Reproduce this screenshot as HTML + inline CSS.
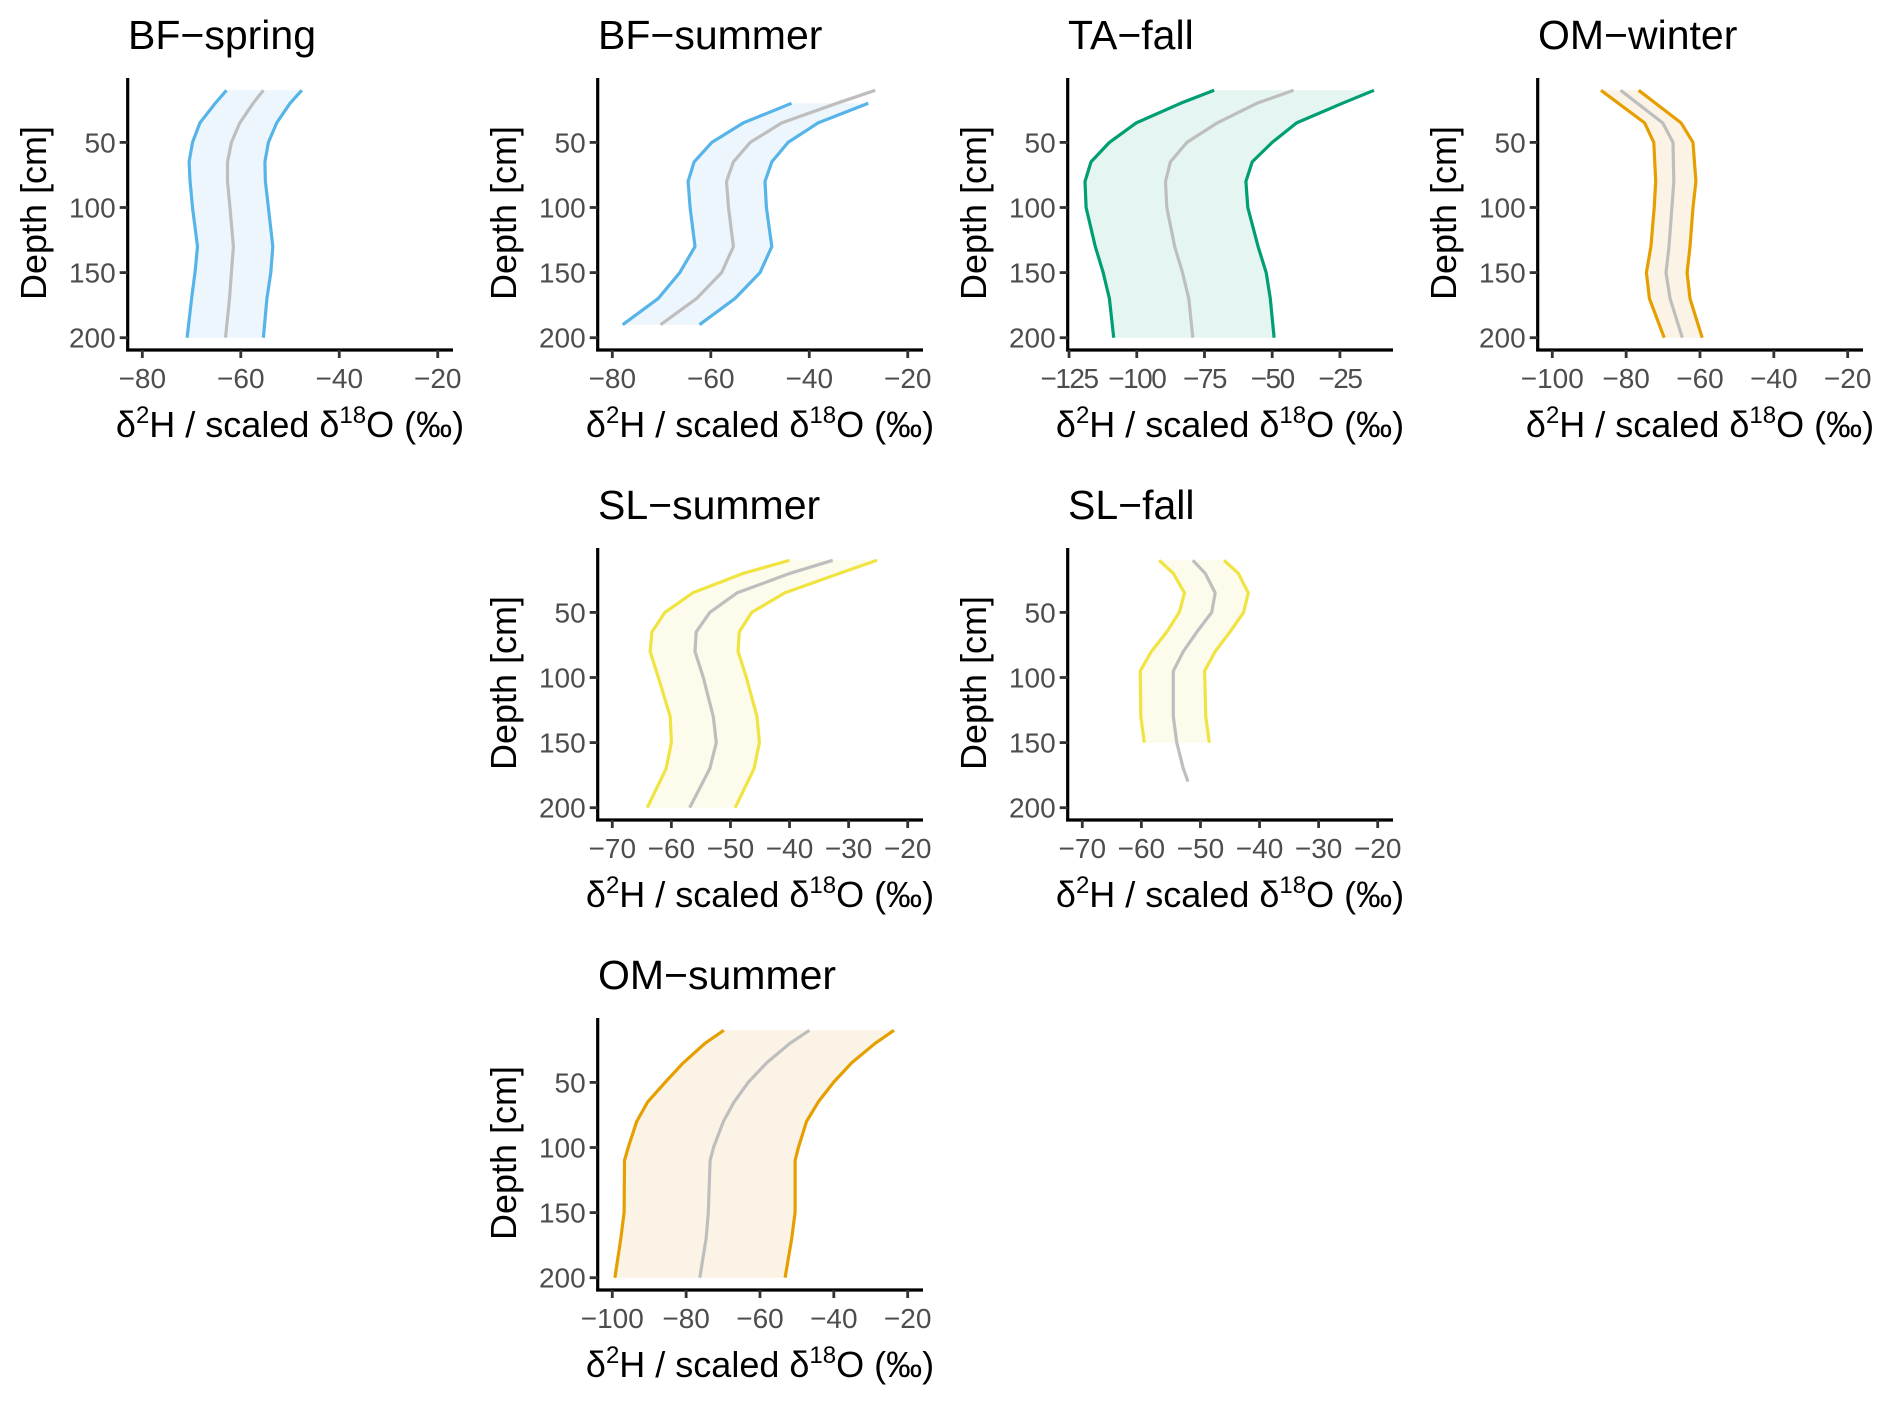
<!DOCTYPE html>
<html><head><meta charset="utf-8"><style>
html,body{margin:0;padding:0;background:#fff;}
svg{display:block;font-family:"Liberation Sans",Arial,sans-serif;}
</style></head><body>
<svg id="chart" width="1892" height="1405" viewBox="0 0 1892 1405" xmlns="http://www.w3.org/2000/svg"></svg>
<script>
// ---------- data ----------
const panelTitles = ["BF\u2212spring","BF\u2212summer","TA\u2212fall","OM\u2212winter","SL\u2212summer","SL\u2212fall","OM\u2212summer"];
const panelCols = [0,1,2,3,1,2,1];
const panelRows = [0,0,0,0,1,1,2];
const depthTicks = [50,100,150,200];

const bfSpringDepth = [10,20,35,50,65,80,100,130,150,170,200];
const bfSpringLow  = [-62.9,-65.2,-68.3,-69.8,-70.5,-70.3,-69.8,-68.8,-69.3,-70,-70.9];
const bfSpringMid  = [-55.4,-57.5,-60.2,-61.9,-62.7,-62.7,-62.2,-61.5,-61.9,-62.3,-63.1];
const bfSpringHigh = [-47.6,-50,-52.7,-54.4,-55.1,-55,-54.4,-53.5,-53.9,-54.7,-55.4];

const bfSummerDepth = [10,20,35,50,65,80,100,130,150,170,190];
const bfSummerLow  = [null,-43.6,-53.4,-59.8,-63.4,-64.6,-64.2,-63.2,-66.3,-70.7,-77.9];
const bfSummerMid  = [-26.6,-34.4,-45.6,-52,-55.4,-56.8,-56.4,-55.4,-57.8,-62.9,-70.2];
const bfSummerHigh = [null,-28,-38.2,-44.3,-47.6,-49,-48.7,-47.6,-50,-55.1,-62.3];

const taFallDepth = [10,20,35,50,65,80,100,130,150,170,200];
const taFallLow  = [-71.4,-83.8,-100.2,-110.1,-116.9,-119.1,-118.7,-115.3,-112.4,-110.1,-108.5];
const taFallMid  = [-42.1,-55.7,-70.3,-81.5,-87.6,-89.4,-88.9,-86,-83.1,-80.8,-79.3];
const taFallHigh = [-12.4,-24.1,-41,-50,-57.4,-59.7,-59,-55.2,-52.2,-50.7,-49.3];

const omWinterDepth = [10,35,50,80,100,130,150,170,200];
const omWinterLow  = [-86.8,-75,-72.5,-72,-72.4,-73.3,-74.5,-73.7,-69.7];
const omWinterMid  = [-81.5,-70.1,-67.3,-67.1,-67.6,-68.4,-69.2,-68.1,-64.8];
const omWinterHigh = [-76.6,-65.1,-61.9,-61.1,-61.9,-62.7,-63.5,-62.7,-59.4];

const slSummerDepth = [10,20,35,50,65,80,100,130,150,170,200];
const slSummerLow  = [-40,-47.8,-56.4,-61.1,-63.3,-63.6,-62.2,-60.2,-60,-60.9,-64.1];
const slSummerMid  = [-32.7,-39.9,-48.9,-53.5,-55.8,-56,-54.6,-52.9,-52.4,-53.5,-56.9];
const slSummerHigh = [-25.2,-31.5,-40.8,-46.4,-48.5,-48.7,-47.3,-45.5,-45.1,-46,-49.2];

const slFallDepth = [10,20,35,50,65,80,95,130,150,170,180];
const slFallLow  = [-57,-54.6,-52.7,-53.6,-55.7,-58.3,-60.2,-60.1,-59.5,null,null];
const slFallMid  = [-51.3,-49.2,-47.5,-48.1,-50.6,-52.9,-54.6,-54.6,-54,-52.9,-52.1];
const slFallHigh = [-46,-43.6,-41.9,-42.7,-45,-47.5,-49.3,-49.1,-48.5,null,null];

const omSummerDepth = [10,20,35,50,65,80,100,110,150,170,200];
const omSummerLow  = [-69.8,-74.9,-80.8,-85.7,-90.4,-93.4,-95.7,-96.7,-96.8,-97.7,-99.3];
const omSummerMid  = [-46.6,-51.9,-58.2,-63.2,-67,-69.9,-72.6,-73.5,-74,-74.6,-76.3];
const omSummerHigh = [-23.7,-28.8,-35.2,-40.1,-44.2,-47.4,-49.6,-50.5,-50.5,-51.4,-53.2];

const xTicks80 = [-80,-60,-40,-20];
const xTicks70 = [-70,-60,-50,-40,-30,-20];
const xTicks100 = [-100,-80,-60,-40,-20];
const xTicks125 = [-125,-100,-75,-50,-25];

const panelDepths = [bfSpringDepth,bfSummerDepth,taFallDepth,omWinterDepth,slSummerDepth,slFallDepth,omSummerDepth];
const panelLows = [bfSpringLow,bfSummerLow,taFallLow,omWinterLow,slSummerLow,slFallLow,omSummerLow];
const panelMids = [bfSpringMid,bfSummerMid,taFallMid,omWinterMid,slSummerMid,slFallMid,omSummerMid];
const panelHighs = [bfSpringHigh,bfSummerHigh,taFallHigh,omWinterHigh,slSummerHigh,slFallHigh,omSummerHigh];
const panelXTicks = [xTicks80,xTicks80,xTicks125,xTicks100,xTicks70,xTicks70,xTicks100];
const panelXMin = [-82.97,-82.97,-125.5,-103.95,-72.47,-72.47,-103.95];
const panelXMax = [-16.9,-16.9,-5.4,-15.85,-17.41,-17.41,-15.85];
const panelLine = ["#56B4E9","#56B4E9","#009E73","#E69F00","#F0E442","#F0E442","#E69F00"];
const panelFill = ["#EEF6FD","#EEF6FD","#E5F5F1","#FBF4E6","#FCFBEC","#FCFBEC","#FBF4E6"];

// ---------- drawing ----------
const NS = "http://www.w3.org/2000/svg";
const svg = document.getElementById("chart");
function mk(tag, attrs, parent){
  const e = document.createElementNS(NS, tag);
  for (const k in attrs) e.setAttribute(k, attrs[k]);
  (parent||svg).appendChild(e);
  return e;
}
const AX_L = 127.7, AX_R = 453, AX_T = 78, AX_B = 350;
const Y0 = 77.3, YS = 1.302;

panelTitles.forEach((title, i) => {
  const ox = panelCols[i]*470, oy = panelRows[i]*470;
  const g = mk("g", {transform:`translate(${ox},${oy})`});
  
  
  const xmin = panelXMin[i], xmax = panelXMax[i];
  const xs = v => AX_L + (v - xmin)/(xmax - xmin)*(AX_R - AX_L);
  const ys = d => Y0 + d*YS;
  const D = panelDepths[i], L = panelLows[i], M = panelMids[i], H = panelHighs[i];

  const idx = D.map((d,k)=>k).filter(k => L[k]!==null && H[k]!==null);
  let rp = idx.map((k,j)=>(j?"L":"M")+xs(L[k]).toFixed(1)+","+ys(D[k]).toFixed(1)).join("");
  rp += idx.slice().reverse().map(k=>"L"+xs(H[k]).toFixed(1)+","+ys(D[k]).toFixed(1)).join("") + "Z";
  const rib = mk("path", {d:rp, fill:panelFill[i], stroke:"none"}, g);
  
  

  function line(arr, color, name){
    const ks = D.map((d,k)=>k).filter(k => arr[k]!==null);
    const p = ks.map((k,j)=>(j?"L":"M")+xs(arr[k]).toFixed(1)+","+ys(D[k]).toFixed(1)).join("");
    const e = mk("path", {d:p, fill:"none", stroke:color, "stroke-width":3.2, "stroke-linejoin":"round"}, g);
    
    
  }
  line(L, panelLine[i], "lower-bound-line");
  line(H, panelLine[i], "upper-bound-line");
  line(M, "#BEBEBE", "median-line");

  const ya = mk("line", {x1:AX_L, y1:AX_T, x2:AX_L, y2:AX_B+1.5, stroke:"#000", "stroke-width":3.2}, g);
  
  
  const xa = mk("line", {x1:AX_L-1.5, y1:AX_B, x2:AX_R, y2:AX_B, stroke:"#000", "stroke-width":3.2}, g);
  
  

  depthTicks.forEach(t => {
    const y = ys(t);
    mk("line", {x1:AX_L-8, y1:y, x2:AX_L, y2:y, stroke:"#333", "stroke-width":2.8}, g);
    const tx = mk("text", {x:AX_L-12, y:y+10, "text-anchor":"end", "font-size":28, fill:"#4D4D4D"}, g);
    tx.textContent = t;
    
    
  });
  const condensed = panelXTicks[i]===xTicks125;
  panelXTicks[i].forEach((t, j) => {
    const x = xs(t);
    mk("line", {x1:x, y1:AX_B, x2:x, y2:AX_B+8, stroke:"#333", "stroke-width":2.8}, g);
    const tx = mk("text", {x:x, y:388, "text-anchor":"middle", "font-size":28, fill:"#4D4D4D"}, g);
    if (condensed) tx.setAttribute("letter-spacing", "-1.5");
    tx.textContent = t<0 ? "\u2212"+Math.abs(t) : String(t);
    
    
  });

  const tt = mk("text", {x:128, y:49, "font-size":41, fill:"#000"}, g);
  tt.textContent = title;
  
  

  const yt = mk("text", {x:0, y:0, transform:`translate(46,213) rotate(-90)`, "text-anchor":"middle", "font-size":36, fill:"#000"}, g);
  yt.textContent = "Depth [cm]";
  
  

  const xt = mk("text", {x:290, y:437, "text-anchor":"middle", "font-size":36, fill:"#000"}, g);
  
  
  xt.innerHTML = 'δ<tspan dy="-14" font-size="24">2</tspan><tspan dy="14">H / scaled δ</tspan><tspan dy="-14" font-size="24">18</tspan><tspan dy="14">O (‰)</tspan>';
});
</script>
</body></html>
